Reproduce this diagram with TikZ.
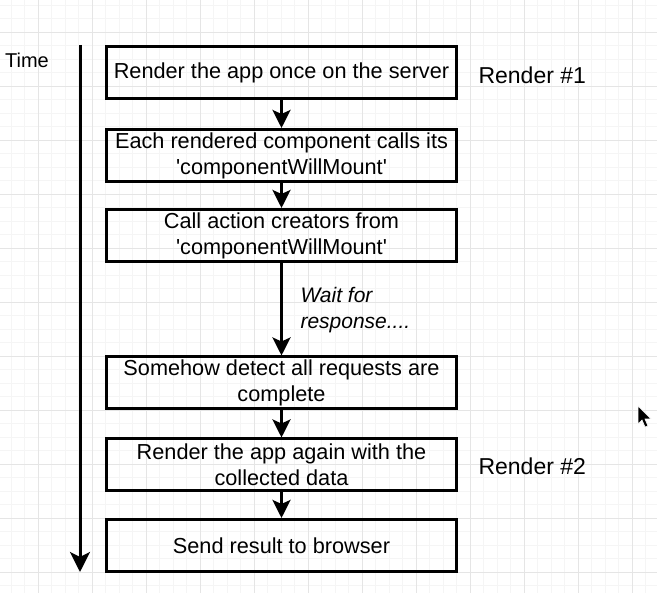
\documentclass[tikz,border=0pt]{standalone}
\usepackage{fontspec}
\setmainfont{Liberation Sans}
\usetikzlibrary{arrows.meta}
\usetikzlibrary{positioning}

\tikzset{
    minorgrid/.style={line width=0.6pt, black!4},
    majorgrid/.style={line width=0.8pt, black!10},
    stepbox/.style={draw, line width=3pt, minimum width=350pt, minimum height=52pt,
        inner sep=0pt, align=center, font=\fontsize{21.7}{26}\selectfont},
    flow/.style={line width=3pt, -{Stealth[width=18pt,length=18pt,inset=4pt]}},
    timeline/.style={line width=3pt, -{Stealth[width=20pt,length=20pt,inset=5pt]}},
}

\begin{document}
\begin{tikzpicture}[x=1pt,y=-1pt]
            % Background and grid
            \fill[white] (0,0) rectangle (657,593);
            \useasboundingbox (0,0) rectangle (657,593);
            \foreach \i in {0,...,47} {
                \draw[minorgrid] ({11+13.5*\i},0) -- ({11+13.5*\i},593);
            }
            \foreach \i in {0,...,43} {
                \draw[minorgrid] (0,{5+13.5*\i}) -- (657,{5+13.5*\i});
            }
            \foreach \x in {38,92,...,632} {
                \draw[majorgrid] (\x,0) -- (\x,593);
            }
            \foreach \y in {32,86,...,572} {
                \draw[majorgrid] (0,\y) -- (657,\y);
            }

            % Time axis
            \node[font=\fontsize{20}{24}\selectfont] (time) at (27,60) {Time};
            \coordinate (ttop) at (80,45);
            \coordinate (tbot) at (80,572);
            \draw[timeline] (ttop) -- (tbot);

            % Steps
            \node[stepbox] (render) at (281.5,72.5) {Render the app once on the server};
            \node[stepbox] (mount) at (281.5,155.5) {Each rendered component calls its\\\textquotesingle componentWillMount\textquotesingle};
            \node[stepbox] (actions) at (281.5,235.5) {Call action creators from\\\textquotesingle componentWillMount\textquotesingle};
            \node[stepbox] (detect) at (281.5,383) {Somehow detect all requests are\\complete};
            \node[stepbox] (rerender) at (281.5,465) {Render the app again with the\\collected data};
            \node[stepbox] (send) at (281.5,545.5) {Send result to browser};

            % Arrows between steps
            \draw[flow] (render) -- (mount);
            \draw[flow] (mount) -- (actions);
            \draw[flow] (actions) -- (detect);
            \draw[flow] (detect) -- (rerender);
            \draw[flow] (rerender) -- (send);

            % Wait label
            \node[anchor=west, align=left, font=\itshape\fontsize{21}{26}\selectfont] (wait) at (297,310) {Wait for\\response....};

            % Render labels
            \node[anchor=west, font=\fontsize{23}{27}\selectfont] (r1) at (475,75) {Render \#1};
            \node[anchor=west, font=\fontsize{23}{27}\selectfont] (r2) at (475,466) {Render \#2};

            % Mouse pointer
            \filldraw[fill=black, draw=white, line width=0.6pt]
                (638,406) -- (638,424) -- (642,420) -- (645,427) -- (648,426) -- (645,419) -- (651,419) -- cycle;
        \end{tikzpicture}
\end{document}
